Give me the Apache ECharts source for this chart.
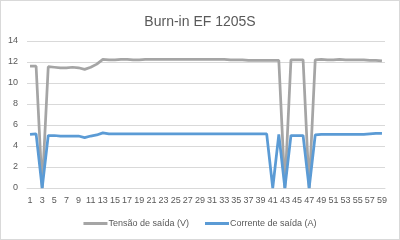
<!DOCTYPE html>
<html><head><meta charset="utf-8">
<script src="https://cdn.jsdelivr.net/npm/echarts@6/dist/echarts.min.js"></script>
<style>html,body{margin:0;padding:0;background:#fff}#c{width:398px;height:238px;border:1px solid #d9d9d9}</style>
</head><body><div id="c"></div>
<script>
const categories = [];
for (let i = 1; i <= 59; i++) categories.push(String(i));
const tensao = [
  11.6, 11.6, 0, 11.55, 11.5, 11.45, 11.45, 11.5, 11.45, 11.3, 11.5, 11.8,
  12.25, 12.2, 12.2, 12.25, 12.25, 12.2, 12.2, 12.25, 12.25, 12.25,
  12.25, 12.25, 12.25, 12.25, 12.25, 12.25, 12.25, 12.25, 12.25, 12.25,
  12.25, 12.2, 12.2, 12.2, 12.15, 12.15, 12.15, 12.15, 12.15, 12.15,
  0, 12.2, 12.2, 12.2, 0,
  12.2, 12.25, 12.2, 12.2, 12.25, 12.2, 12.2, 12.2, 12.2, 12.15, 12.15, 12.1
];
const corrente = [
  5.1, 5.15, 0, 5.0, 5.0, 4.95, 4.95, 4.95, 4.95, 4.8, 4.95, 5.05,
  5.25, 5.15, 5.15, 5.15, 5.15, 5.15, 5.15, 5.15, 5.15, 5.15,
  5.15, 5.15, 5.15, 5.15, 5.15, 5.15, 5.15, 5.15, 5.15, 5.15,
  5.15, 5.15, 5.15, 5.15, 5.15, 5.15, 5.15, 5.15,
  0, 5.1, 0, 5.0, 5.0, 5.0, 0,
  5.05, 5.1, 5.1, 5.1, 5.1, 5.1, 5.1, 5.1, 5.1, 5.15, 5.2, 5.2
];
const seriesNames = ['Tensão de saída (V)', 'Corrente de saída (A)'];
const titleText = 'Burn-in EF 1205S';

const chart = echarts.init(document.getElementById('c'), null, {renderer: 'canvas'});
const font = 'Liberation Sans, Arial, sans-serif';
chart.setOption({
  animation: false,
  title: {text: titleText, left: 'center', top: 9,
    textStyle: {fontFamily: font, fontSize: 14, fontWeight: 'normal', color: '#595959'}},
  legend: {bottom: 6, left: 'center', itemWidth: 24, itemHeight: 3, itemGap: 16,
    icon: 'rect',
    textStyle: {fontFamily: font, fontSize: 9, color: '#595959', padding: [0, 0, 0, -4]},
    data: seriesNames},
  grid: {left: 26, right: 14, top: 40, bottom: 51, containLabel: false},
  xAxis: {type: 'category', data: categories, boundaryGap: true,
    axisLine: {lineStyle: {color: '#d9d9d9'}}, axisTick: {show: false},
    axisLabel: {interval: 1, fontFamily: font, fontSize: 9, color: '#595959', margin: 8}},
  yAxis: {type: 'value', min: 0, max: 14, interval: 2,
    axisLine: {show: false}, axisTick: {show: false},
    splitLine: {lineStyle: {color: '#d9d9d9'}},
    axisLabel: {fontFamily: font, fontSize: 9, color: '#595959', margin: 9}},
  series: [
    {name: seriesNames[0], type: 'line', data: tensao, showSymbol: false, symbol: 'none',
      lineStyle: {color: '#a5a5a5', width: 2.75}, itemStyle: {color: '#a5a5a5'}},
    {name: seriesNames[1], type: 'line', data: corrente, showSymbol: false, symbol: 'none',
      lineStyle: {color: '#5b9bd5', width: 2.75}, itemStyle: {color: '#5b9bd5'}}
  ]
});
</script></body></html>
